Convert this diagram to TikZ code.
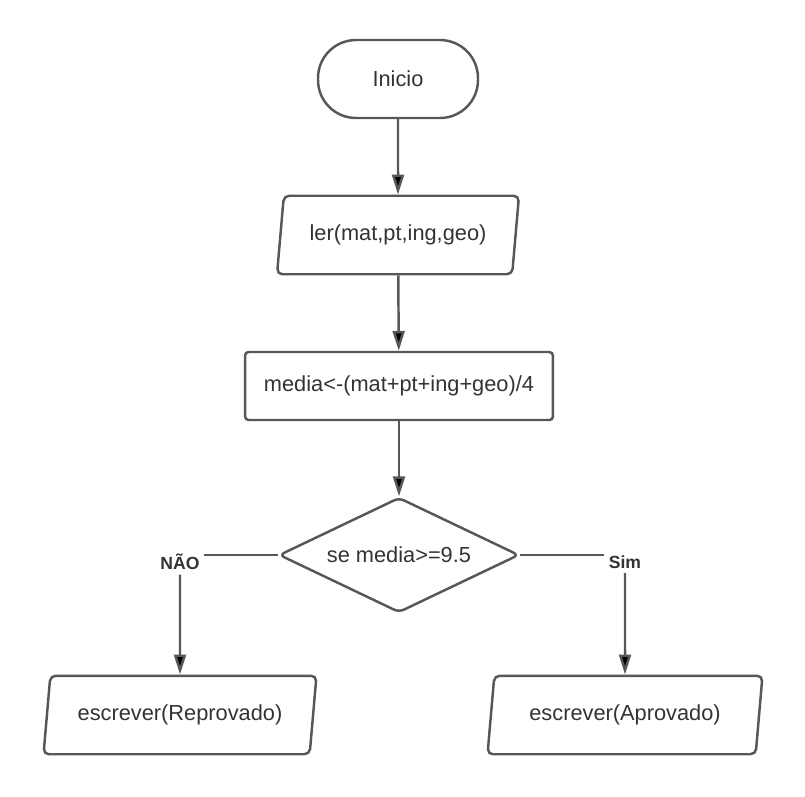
\documentclass[tikz,border=0pt]{standalone}
\usepackage{fontspec}
\setmainfont{Liberation Sans}
\usetikzlibrary{arrows.meta,shapes.geometric,positioning}
\definecolor{linegray}{RGB}{87,87,87}
\definecolor{textgray}{RGB}{51,51,51}
\tikzset{
    terminal/.style={
    rectangle,rounded corners=0.76cm,draw=linegray,line width=1.4pt,
    minimum width=3.2cm,minimum height=1.56cm,text=textgray
    },
    io/.style={
    trapezium,trapezium left angle=78,trapezium right angle=102,
    trapezium stretches body=true,rounded corners=3pt,draw=linegray,
    line width=1.4pt,minimum height=1.57cm,text=textgray
    },
    process/.style={
    rectangle,rounded corners=2pt,draw=linegray,line width=1.4pt,
    minimum width=6.16cm,minimum height=1.36cm,text=textgray
    },
    decision/.style={
    diamond,aspect=2.1,rounded corners=3pt,draw=linegray,line width=1.4pt,
    minimum width=4.8cm,minimum height=2.3cm,inner sep=0pt,text=textgray
    },
    branch/.style={
    text=textgray,font=\fontsize{10}{12}\selectfont\bfseries,inner sep=2pt
    },
}

\begin{document}
\begin{tikzpicture}[x=0.02cm, y=-0.02cm, line width=1.4pt,
    >={Triangle[length=0.4cm,width=0.24cm]},
    font=\fontsize{12.4}{15}\selectfont]
   \useasboundingbox (0,0) rectangle (805,796);

   \node[terminal] (inicio) at (398,79) {Inicio};
   \node[io, minimum width=4.84cm] (ler) at (398,235) {ler(mat,pt,ing,geo)};
   \node[process] (media) at (399,386) {media<-(mat+pt+ing+geo)/4};
   \node[decision] (se) at (399,555) {se media>=9.5};

   \node[branch] (nao) at (180,562) {NÃO};
   \node[branch] (sim) at (625,562) {Sim};

   \node[io, minimum width=5.46cm] (reprov) at (180,715) {escrever(Reprovado)};
   \node[io, minimum width=5.5cm] (aprov) at (625,715) {escrever(Aprovado)};

  \path[->, draw=linegray]
    (inicio) edge (ler)
    (ler)    edge (media)
    (media)  edge (se)
    (nao)    edge (reprov)
    (sim)    edge (aprov);
  \draw[linegray] (se.west) -- (se.west -| nao.east);
  \draw[linegray] (se.east) -- (se.east -| sim.west);
  \end{tikzpicture}
\end{document}
